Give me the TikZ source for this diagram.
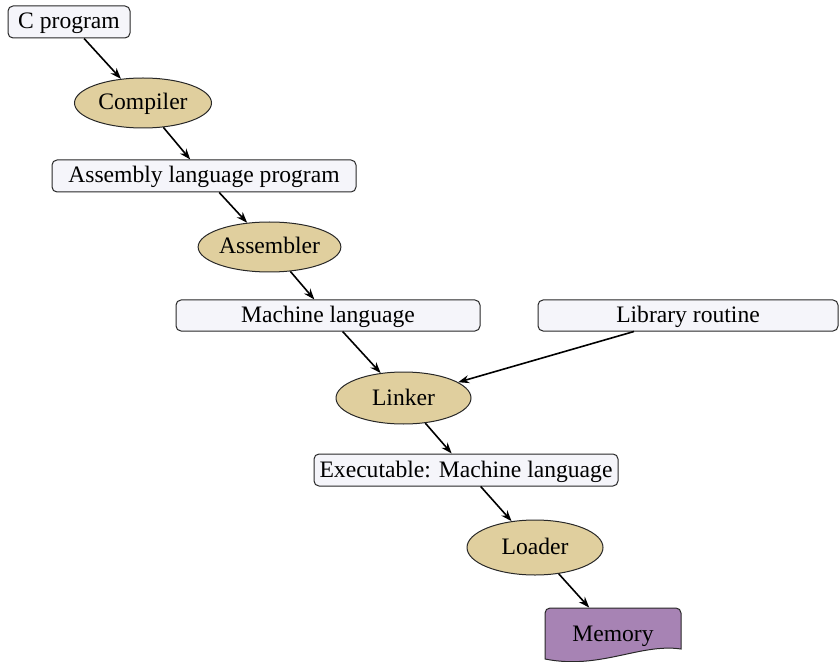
\documentclass[tikz,border=0pt]{standalone}
\usepackage{fontspec}
\setmainfont{Liberation Serif}
\usetikzlibrary{arrows.meta,calc,shapes.geometric}
\definecolor{boxfill}{RGB}{245,245,250}
\definecolor{ellfill}{RGB}{224,207,158}
\definecolor{memfill}{RGB}{167,131,180}
\definecolor{edgegray}{RGB}{40,40,40}
\begin{document}
\begin{tikzpicture}[x=0.5pt,y=-0.5pt,
  every node/.style={font=\fontsize{11.8}{14}\selectfont, inner sep=0pt, text height=9.4pt, text depth=2.4pt},
  progbox/.style={draw=edgegray, line width=0.5pt, fill=boxfill, rounded corners=2.5pt, minimum height=16pt},
  tool/.style={ellipse, draw=edgegray, line width=0.5pt, fill=ellfill},
  arr/.style={-{Stealth[length=5.5pt,width=4pt]}, line width=0.8pt, black}]
\useasboundingbox (0,0) rectangle (839,662);
\node[progbox, minimum width=61pt] (cprog) at (69,22) {C program};
\node[tool, minimum width=68.5pt, minimum height=25pt] (compiler) at (143,103) {Compiler};
\node[progbox, minimum width=152pt] (asm) at (204,176) {Assembly language program};
\node[tool, minimum width=67.5pt, minimum height=25pt] (assembler) at (269.5,247) {Assembler};
\node[progbox, minimum width=152pt, minimum height=15.5pt] (mach) at (328,315.5) {Machine language};
\node[progbox, minimum width=150pt, minimum height=15.5pt] (lib) at (688,315.5) {Library routine};
\node[tool, minimum width=67.5pt, minimum height=26pt] (linker) at (403.5,398) {Linker};
\node[progbox, minimum width=152pt] (exec) at (466,470) {Executable: Machine language};
\node[tool, minimum width=68pt, minimum height=27.5pt] (loader) at (535,547.5) {Loader};
% memory (document shape)
\draw[draw=edgegray, line width=0.5pt, fill=memfill]
  (545,659) [rounded corners=2.5pt] -- (545,608) -- (681,608) [sharp corners] -- (681,649)
  .. controls (640,643) and (600,670) .. (545,659) -- cycle;
\node[minimum width=68pt, minimum height=26pt] (mem) at (613,634) {Memory};
\draw[arr] (cprog) -- (compiler);
\draw[arr] (compiler) -- (asm);
\draw[arr] (asm) -- (assembler);
\draw[arr] (assembler) -- (mach);
\draw[arr] (mach) -- (linker);
\draw[arr] ($(lib.south)+(-27pt,0)$) -- (linker);
\draw[arr] (linker) -- (exec);
\draw[arr] (exec) -- (loader);
\draw[arr] (loader) -- (mem);
\end{tikzpicture}
\end{document}
